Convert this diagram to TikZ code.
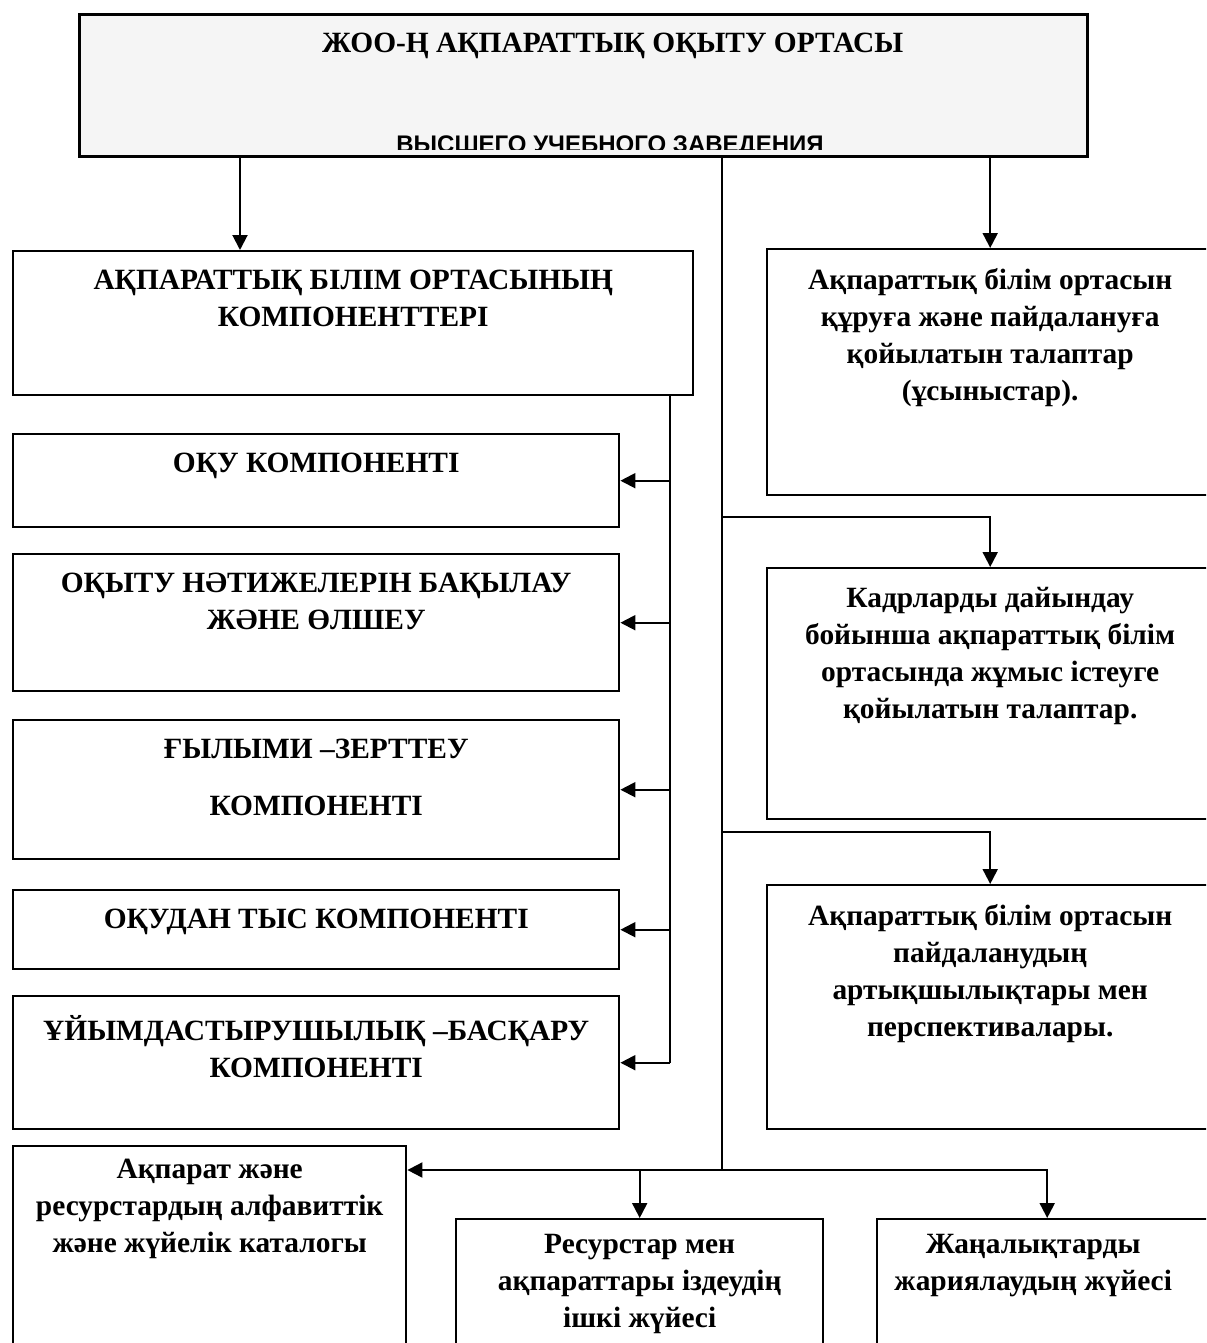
\documentclass[tikz,border=0pt]{standalone}
\usepackage{fontspec}
\setmainfont{Liberation Serif}
\newfontfamily\subfont{Liberation Sans}
\usetikzlibrary{arrows.meta,positioning}

\begin{document}
\begin{tikzpicture}[
  x=0.5pt, y=-0.5pt,
  box/.style={draw, line width=1.2pt, inner sep=0pt, anchor=north west},
  lbl/.style={anchor=north, align=center, inner sep=0pt, yshift=-9.9pt, font=\bfseries\fontsize{14.7}{18.5}\selectfont},
  arr/.style={line width=1pt, -{Triangle[length=7.5pt,width=7.5pt]}},
  ln/.style={line width=1pt}
]
  \useasboundingbox (0,0) rectangle (1206,1343);
  \clip (0,0) rectangle (1206,1343);
  \fill[white] (0,0) rectangle (1206,1343);

  \node[box, line width=1.6pt, fill=black!4, minimum width=504pt, minimum height=71pt,
    label={[lbl, xshift=14.5pt]north:ЖОО-Ң АҚПАРАТТЫҚ ОҚЫТУ ОРТАСЫ}] (zhoo) at (78,13) {};
  \begin{scope}
    \clip (80,15) rectangle (1084,149);
    \node[anchor=base, inner sep=0pt, font=\subfont\bfseries\fontsize{12}{14}\selectfont] (zhoo-ru) at (610,152) {ВЫСШЕГО УЧЕБНОГО ЗАВЕДЕНИЯ};
  \end{scope}

  \node[box, minimum width=340pt, minimum height=72pt,
    label={[lbl]north:АҚПАРАТТЫҚ БІЛІМ ОРТАСЫНЫҢ\\КОМПОНЕНТТЕРІ}] (compL) at (12,250) {};
  \node[box, minimum width=303pt, minimum height=46.5pt,
    label={[lbl]north:ОҚУ КОМПОНЕНТІ}] (oqu) at (12,433) {};
  \node[box, minimum width=303pt, minimum height=68.5pt,
    label={[lbl]north:ОҚЫТУ НӘТИЖЕЛЕРІН БАҚЫЛАУ\\ЖӘНЕ ӨЛШЕУ}] (olsheu) at (12,553) {};
  \node[box, minimum width=303pt, minimum height=69.5pt,
    label={[lbl]north:ҒЫЛЫМИ –ЗЕРТТЕУ\\[10pt]КОМПОНЕНТІ}] (gylym) at (12,719) {};
  \node[box, minimum width=303pt, minimum height=39.5pt,
    label={[lbl]north:ОҚУДАН ТЫС КОМПОНЕНТІ}] (tys) at (12,889) {};
  \node[box, minimum width=303pt, minimum height=66.5pt,
    label={[lbl]north:ҰЙЫМДАСТЫРУШЫЛЫҚ –БАСҚАРУ\\КОМПОНЕНТІ}] (basqaru) at (12,995) {};

  \node[box, minimum width=223pt, minimum height=123pt,
    label={[lbl]north:Ақпараттық білім ортасын\\құруға және пайдалануға\\қойылатын талаптар\\(ұсыныстар).}] (talap) at (766,248) {};
  \node[box, minimum width=223pt, minimum height=125.5pt,
    label={[lbl]north:Кадрларды дайындау\\бойынша ақпараттық білім\\ортасында жұмыс істеуге\\қойылатын талаптар.}] (kadr) at (766,567) {};
  \node[box, minimum width=223pt, minimum height=122pt,
    label={[lbl]north:Ақпараттық білім ортасын\\пайдаланудың\\артықшылықтары мен\\перспективалары.}] (artyq) at (766,884) {};

  \node[box, minimum width=196.5pt, minimum height=110pt,
    label={[lbl, yshift=3pt]north:Ақпарат және\\ресурстардың алфавиттік\\және жүйелік каталогы}] (katalog) at (12,1145) {};
  \node[box, minimum width=183.5pt, minimum height=75pt,
    label={[lbl, yshift=2pt]north:Ресурстар мен\\ақпараттары іздеудің\\ішкі жүйесі}] (izdeu) at (455,1218) {};
  \node[box, minimum width=170pt, minimum height=75pt,
    label={[lbl, yshift=2pt, xshift=-7pt]north:Жаңалықтарды\\жариялаудың жүйесі}] (zhana) at (876,1218) {};

  \coordinate (drop) at (240,0);
  \coordinate (rail) at (670,0);
  \coordinate (sp1) at (722,517);
  \coordinate (sp2) at (722,832);
  \coordinate (sp3) at (722,1170);

  \draw[arr] (zhoo.south -| drop) -- (compL.north -| drop);
  \draw[arr] (zhoo.south -| talap.north) -- (talap.north);
  \draw[ln] (zhoo.south -| sp3) -- (sp3);
  \draw[arr] (sp1) -| (kadr.north);
  \draw[arr] (sp2) -| (artyq.north);
  \draw[arr] (sp3) -- (sp3 -| katalog.east);
  \draw[arr] (sp3) -| (izdeu.north);
  \draw[arr] (sp3) -| (zhana.north);

  \draw[ln] (compL.south -| rail) -- (rail |- basqaru.east);
  \foreach \b in {oqu,olsheu,gylym,tys,basqaru}
    \draw[arr] (rail |- \b.east) -- (\b.east);
\end{tikzpicture}
\end{document}
